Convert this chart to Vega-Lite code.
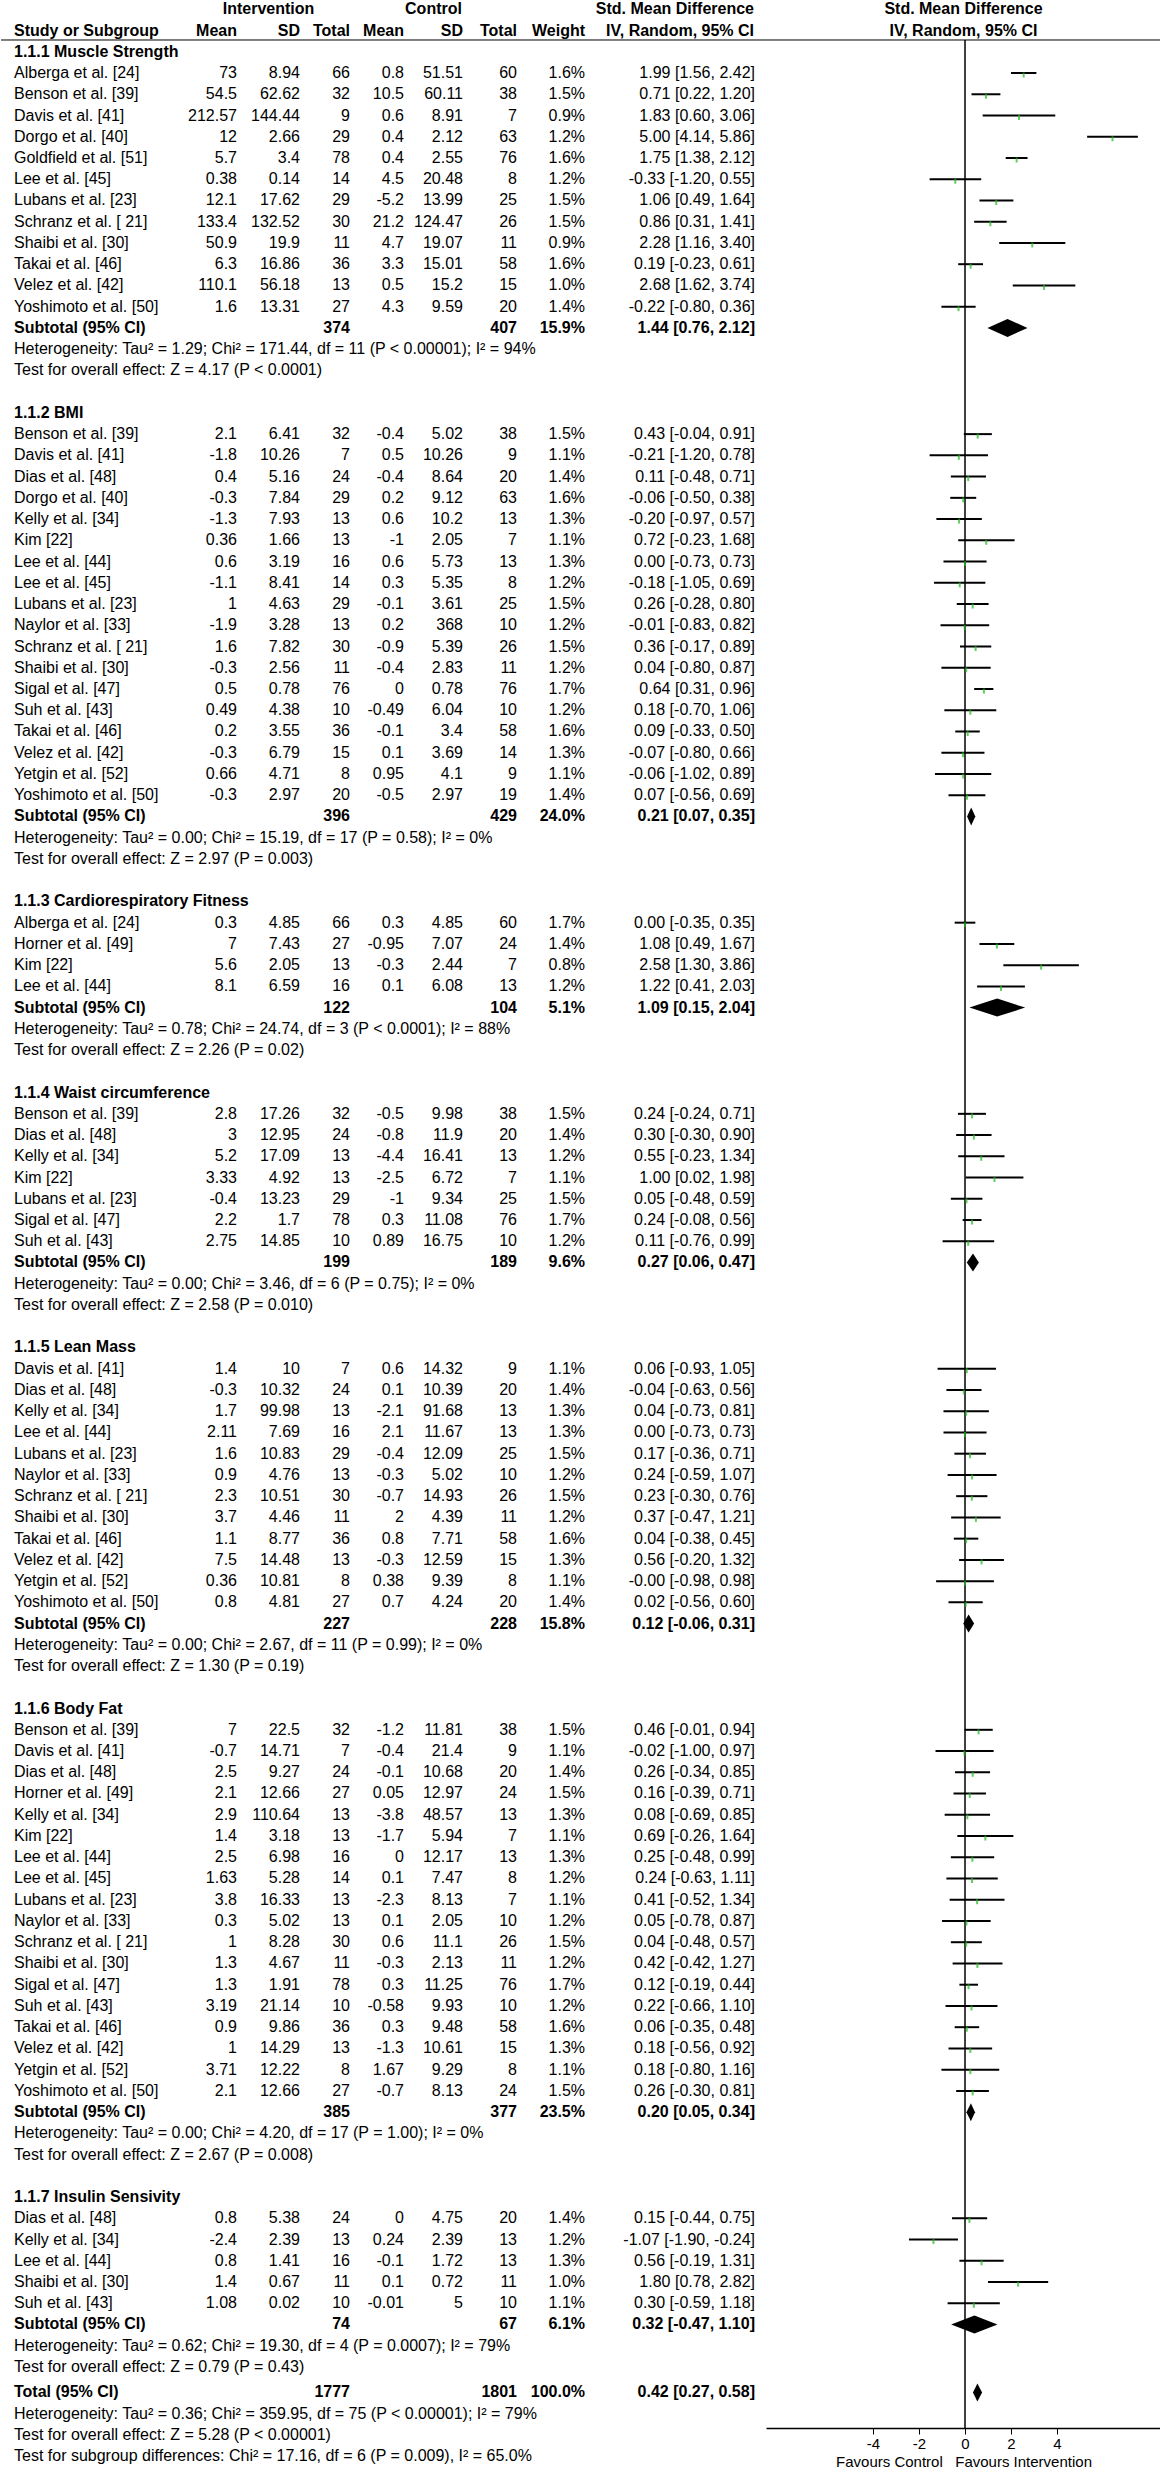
{
"$schema": "https://vega.github.io/schema/vega-lite/v6.json",
"padding": 0,
"spacing": 0,
"bounds": "flush",
"config": {"font": "Liberation Sans", "view": {"stroke": null}, "text": {"fontSize": 16}},
"datasets": {
"hdr": [
{"row":0,"col":"grpI","label":"Intervention"},
{"row":0,"col":"grpC","label":"Control"},
{"row":0,"col":"ci","label":"Std. Mean Difference"},
{"row":0,"col":"forest","label":"Std. Mean Difference"},
{"row":1,"col":"name","label":"Study or Subgroup"},
{"row":1,"col":"mi","label":"Mean"},
{"row":1,"col":"sdi","label":"SD"},
{"row":1,"col":"ni","label":"Total"},
{"row":1,"col":"mc","label":"Mean"},
{"row":1,"col":"sdc","label":"SD"},
{"row":1,"col":"nc","label":"Total"},
{"row":1,"col":"w","label":"Weight"},
{"row":1,"col":"ci","label":"IV, Random, 95% CI"},
{"row":1,"col":"forest","label":"IV, Random, 95% CI"}
],
"rows": [
{"row":2,"type":"group","label":"1.1.1 Muscle Strength"},
{"row":3,"type":"study","label":"Alberga et al. [24]","mi":73,"sdi":8.94,"ni":66,"mc":0.8,"sdc":51.51,"nc":60,"w":0.016,"smd":1.99,"lo":1.56,"hi":2.42,"ci":"1.99 [1.56, 2.42]"},
{"row":4,"type":"study","label":"Benson et al. [39]","mi":54.5,"sdi":62.62,"ni":32,"mc":10.5,"sdc":60.11,"nc":38,"w":0.015,"smd":0.71,"lo":0.22,"hi":1.20,"ci":"0.71 [0.22, 1.20]"},
{"row":5,"type":"study","label":"Davis et al. [41]","mi":212.57,"sdi":144.44,"ni":9,"mc":0.6,"sdc":8.91,"nc":7,"w":0.009,"smd":1.83,"lo":0.60,"hi":3.06,"ci":"1.83 [0.60, 3.06]"},
{"row":6,"type":"study","label":"Dorgo et al. [40]","mi":12,"sdi":2.66,"ni":29,"mc":0.4,"sdc":2.12,"nc":63,"w":0.012,"smd":5.00,"lo":4.14,"hi":5.86,"ci":"5.00 [4.14, 5.86]"},
{"row":7,"type":"study","label":"Goldfield et al. [51]","mi":5.7,"sdi":3.4,"ni":78,"mc":0.4,"sdc":2.55,"nc":76,"w":0.016,"smd":1.75,"lo":1.38,"hi":2.12,"ci":"1.75 [1.38, 2.12]"},
{"row":8,"type":"study","label":"Lee et al. [45]","mi":0.38,"sdi":0.14,"ni":14,"mc":4.5,"sdc":20.48,"nc":8,"w":0.012,"smd":-0.33,"lo":-1.20,"hi":0.55,"ci":"-0.33 [-1.20, 0.55]"},
{"row":9,"type":"study","label":"Lubans et al. [23]","mi":12.1,"sdi":17.62,"ni":29,"mc":-5.2,"sdc":13.99,"nc":25,"w":0.015,"smd":1.06,"lo":0.49,"hi":1.64,"ci":"1.06 [0.49, 1.64]"},
{"row":10,"type":"study","label":"Schranz et al. [ 21]","mi":133.4,"sdi":132.52,"ni":30,"mc":21.2,"sdc":124.47,"nc":26,"w":0.015,"smd":0.86,"lo":0.31,"hi":1.41,"ci":"0.86 [0.31, 1.41]"},
{"row":11,"type":"study","label":"Shaibi et al. [30]","mi":50.9,"sdi":19.9,"ni":11,"mc":4.7,"sdc":19.07,"nc":11,"w":0.009,"smd":2.28,"lo":1.16,"hi":3.40,"ci":"2.28 [1.16, 3.40]"},
{"row":12,"type":"study","label":"Takai et al. [46]","mi":6.3,"sdi":16.86,"ni":36,"mc":3.3,"sdc":15.01,"nc":58,"w":0.016,"smd":0.19,"lo":-0.23,"hi":0.61,"ci":"0.19 [-0.23, 0.61]"},
{"row":13,"type":"study","label":"Velez et al. [42]","mi":110.1,"sdi":56.18,"ni":13,"mc":0.5,"sdc":15.2,"nc":15,"w":0.010,"smd":2.68,"lo":1.62,"hi":3.74,"ci":"2.68 [1.62, 3.74]"},
{"row":14,"type":"study","label":"Yoshimoto et al. [50]","mi":1.6,"sdi":13.31,"ni":27,"mc":4.3,"sdc":9.59,"nc":20,"w":0.014,"smd":-0.22,"lo":-0.80,"hi":0.36,"ci":"-0.22 [-0.80, 0.36]"},
{"row":15,"type":"sub","label":"Subtotal (95% CI)","ni":374,"nc":407,"w":0.159,"smd":1.44,"lo":0.76,"hi":2.12,"ci":"1.44 [0.76, 2.12]"},
{"row":16,"type":"note","label":"Heterogeneity: Tau² = 1.29; Chi² = 171.44, df = 11 (P < 0.00001); I² = 94%"},
{"row":17,"type":"note","label":"Test for overall effect: Z = 4.17 (P < 0.0001)"},
{"row":19,"type":"group","label":"1.1.2 BMI"},
{"row":20,"type":"study","label":"Benson et al. [39]","mi":2.1,"sdi":6.41,"ni":32,"mc":-0.4,"sdc":5.02,"nc":38,"w":0.015,"smd":0.43,"lo":-0.04,"hi":0.91,"ci":"0.43 [-0.04, 0.91]"},
{"row":21,"type":"study","label":"Davis et al. [41]","mi":-1.8,"sdi":10.26,"ni":7,"mc":0.5,"sdc":10.26,"nc":9,"w":0.011,"smd":-0.21,"lo":-1.20,"hi":0.78,"ci":"-0.21 [-1.20, 0.78]"},
{"row":22,"type":"study","label":"Dias et al. [48]","mi":0.4,"sdi":5.16,"ni":24,"mc":-0.4,"sdc":8.64,"nc":20,"w":0.014,"smd":0.11,"lo":-0.48,"hi":0.71,"ci":"0.11 [-0.48, 0.71]"},
{"row":23,"type":"study","label":"Dorgo et al. [40]","mi":-0.3,"sdi":7.84,"ni":29,"mc":0.2,"sdc":9.12,"nc":63,"w":0.016,"smd":-0.06,"lo":-0.50,"hi":0.38,"ci":"-0.06 [-0.50, 0.38]"},
{"row":24,"type":"study","label":"Kelly et al. [34]","mi":-1.3,"sdi":7.93,"ni":13,"mc":0.6,"sdc":10.2,"nc":13,"w":0.013,"smd":-0.20,"lo":-0.97,"hi":0.57,"ci":"-0.20 [-0.97, 0.57]"},
{"row":25,"type":"study","label":"Kim [22]","mi":0.36,"sdi":1.66,"ni":13,"mc":-1,"sdc":2.05,"nc":7,"w":0.011,"smd":0.72,"lo":-0.23,"hi":1.68,"ci":"0.72 [-0.23, 1.68]"},
{"row":26,"type":"study","label":"Lee et al. [44]","mi":0.6,"sdi":3.19,"ni":16,"mc":0.6,"sdc":5.73,"nc":13,"w":0.013,"smd":0.00,"lo":-0.73,"hi":0.73,"ci":"0.00 [-0.73, 0.73]"},
{"row":27,"type":"study","label":"Lee et al. [45]","mi":-1.1,"sdi":8.41,"ni":14,"mc":0.3,"sdc":5.35,"nc":8,"w":0.012,"smd":-0.18,"lo":-1.05,"hi":0.69,"ci":"-0.18 [-1.05, 0.69]"},
{"row":28,"type":"study","label":"Lubans et al. [23]","mi":1,"sdi":4.63,"ni":29,"mc":-0.1,"sdc":3.61,"nc":25,"w":0.015,"smd":0.26,"lo":-0.28,"hi":0.80,"ci":"0.26 [-0.28, 0.80]"},
{"row":29,"type":"study","label":"Naylor et al. [33]","mi":-1.9,"sdi":3.28,"ni":13,"mc":0.2,"sdc":368,"nc":10,"w":0.012,"smd":-0.01,"lo":-0.83,"hi":0.82,"ci":"-0.01 [-0.83, 0.82]"},
{"row":30,"type":"study","label":"Schranz et al. [ 21]","mi":1.6,"sdi":7.82,"ni":30,"mc":-0.9,"sdc":5.39,"nc":26,"w":0.015,"smd":0.36,"lo":-0.17,"hi":0.89,"ci":"0.36 [-0.17, 0.89]"},
{"row":31,"type":"study","label":"Shaibi et al. [30]","mi":-0.3,"sdi":2.56,"ni":11,"mc":-0.4,"sdc":2.83,"nc":11,"w":0.012,"smd":0.04,"lo":-0.80,"hi":0.87,"ci":"0.04 [-0.80, 0.87]"},
{"row":32,"type":"study","label":"Sigal et al. [47]","mi":0.5,"sdi":0.78,"ni":76,"mc":0,"sdc":0.78,"nc":76,"w":0.017,"smd":0.64,"lo":0.31,"hi":0.96,"ci":"0.64 [0.31, 0.96]"},
{"row":33,"type":"study","label":"Suh et al. [43]","mi":0.49,"sdi":4.38,"ni":10,"mc":-0.49,"sdc":6.04,"nc":10,"w":0.012,"smd":0.18,"lo":-0.70,"hi":1.06,"ci":"0.18 [-0.70, 1.06]"},
{"row":34,"type":"study","label":"Takai et al. [46]","mi":0.2,"sdi":3.55,"ni":36,"mc":-0.1,"sdc":3.4,"nc":58,"w":0.016,"smd":0.09,"lo":-0.33,"hi":0.50,"ci":"0.09 [-0.33, 0.50]"},
{"row":35,"type":"study","label":"Velez et al. [42]","mi":-0.3,"sdi":6.79,"ni":15,"mc":0.1,"sdc":3.69,"nc":14,"w":0.013,"smd":-0.07,"lo":-0.80,"hi":0.66,"ci":"-0.07 [-0.80, 0.66]"},
{"row":36,"type":"study","label":"Yetgin et al. [52]","mi":0.66,"sdi":4.71,"ni":8,"mc":0.95,"sdc":4.1,"nc":9,"w":0.011,"smd":-0.06,"lo":-1.02,"hi":0.89,"ci":"-0.06 [-1.02, 0.89]"},
{"row":37,"type":"study","label":"Yoshimoto et al. [50]","mi":-0.3,"sdi":2.97,"ni":20,"mc":-0.5,"sdc":2.97,"nc":19,"w":0.014,"smd":0.07,"lo":-0.56,"hi":0.69,"ci":"0.07 [-0.56, 0.69]"},
{"row":38,"type":"sub","label":"Subtotal (95% CI)","ni":396,"nc":429,"w":0.240,"smd":0.21,"lo":0.07,"hi":0.35,"ci":"0.21 [0.07, 0.35]"},
{"row":39,"type":"note","label":"Heterogeneity: Tau² = 0.00; Chi² = 15.19, df = 17 (P = 0.58); I² = 0%"},
{"row":40,"type":"note","label":"Test for overall effect: Z = 2.97 (P = 0.003)"},
{"row":42,"type":"group","label":"1.1.3 Cardiorespiratory Fitness"},
{"row":43,"type":"study","label":"Alberga et al. [24]","mi":0.3,"sdi":4.85,"ni":66,"mc":0.3,"sdc":4.85,"nc":60,"w":0.017,"smd":0.00,"lo":-0.35,"hi":0.35,"ci":"0.00 [-0.35, 0.35]"},
{"row":44,"type":"study","label":"Horner et al. [49]","mi":7,"sdi":7.43,"ni":27,"mc":-0.95,"sdc":7.07,"nc":24,"w":0.014,"smd":1.08,"lo":0.49,"hi":1.67,"ci":"1.08 [0.49, 1.67]"},
{"row":45,"type":"study","label":"Kim [22]","mi":5.6,"sdi":2.05,"ni":13,"mc":-0.3,"sdc":2.44,"nc":7,"w":0.008,"smd":2.58,"lo":1.30,"hi":3.86,"ci":"2.58 [1.30, 3.86]"},
{"row":46,"type":"study","label":"Lee et al. [44]","mi":8.1,"sdi":6.59,"ni":16,"mc":0.1,"sdc":6.08,"nc":13,"w":0.012,"smd":1.22,"lo":0.41,"hi":2.03,"ci":"1.22 [0.41, 2.03]"},
{"row":47,"type":"sub","label":"Subtotal (95% CI)","ni":122,"nc":104,"w":0.051,"smd":1.09,"lo":0.15,"hi":2.04,"ci":"1.09 [0.15, 2.04]"},
{"row":48,"type":"note","label":"Heterogeneity: Tau² = 0.78; Chi² = 24.74, df = 3 (P < 0.0001); I² = 88%"},
{"row":49,"type":"note","label":"Test for overall effect: Z = 2.26 (P = 0.02)"},
{"row":51,"type":"group","label":"1.1.4 Waist circumference"},
{"row":52,"type":"study","label":"Benson et al. [39]","mi":2.8,"sdi":17.26,"ni":32,"mc":-0.5,"sdc":9.98,"nc":38,"w":0.015,"smd":0.24,"lo":-0.24,"hi":0.71,"ci":"0.24 [-0.24, 0.71]"},
{"row":53,"type":"study","label":"Dias et al. [48]","mi":3,"sdi":12.95,"ni":24,"mc":-0.8,"sdc":11.9,"nc":20,"w":0.014,"smd":0.30,"lo":-0.30,"hi":0.90,"ci":"0.30 [-0.30, 0.90]"},
{"row":54,"type":"study","label":"Kelly et al. [34]","mi":5.2,"sdi":17.09,"ni":13,"mc":-4.4,"sdc":16.41,"nc":13,"w":0.012,"smd":0.55,"lo":-0.23,"hi":1.34,"ci":"0.55 [-0.23, 1.34]"},
{"row":55,"type":"study","label":"Kim [22]","mi":3.33,"sdi":4.92,"ni":13,"mc":-2.5,"sdc":6.72,"nc":7,"w":0.011,"smd":1.00,"lo":0.02,"hi":1.98,"ci":"1.00 [0.02, 1.98]"},
{"row":56,"type":"study","label":"Lubans et al. [23]","mi":-0.4,"sdi":13.23,"ni":29,"mc":-1,"sdc":9.34,"nc":25,"w":0.015,"smd":0.05,"lo":-0.48,"hi":0.59,"ci":"0.05 [-0.48, 0.59]"},
{"row":57,"type":"study","label":"Sigal et al. [47]","mi":2.2,"sdi":1.7,"ni":78,"mc":0.3,"sdc":11.08,"nc":76,"w":0.017,"smd":0.24,"lo":-0.08,"hi":0.56,"ci":"0.24 [-0.08, 0.56]"},
{"row":58,"type":"study","label":"Suh et al. [43]","mi":2.75,"sdi":14.85,"ni":10,"mc":0.89,"sdc":16.75,"nc":10,"w":0.012,"smd":0.11,"lo":-0.76,"hi":0.99,"ci":"0.11 [-0.76, 0.99]"},
{"row":59,"type":"sub","label":"Subtotal (95% CI)","ni":199,"nc":189,"w":0.096,"smd":0.27,"lo":0.06,"hi":0.47,"ci":"0.27 [0.06, 0.47]"},
{"row":60,"type":"note","label":"Heterogeneity: Tau² = 0.00; Chi² = 3.46, df = 6 (P = 0.75); I² = 0%"},
{"row":61,"type":"note","label":"Test for overall effect: Z = 2.58 (P = 0.010)"},
{"row":63,"type":"group","label":"1.1.5 Lean Mass"},
{"row":64,"type":"study","label":"Davis et al. [41]","mi":1.4,"sdi":10,"ni":7,"mc":0.6,"sdc":14.32,"nc":9,"w":0.011,"smd":0.06,"lo":-0.93,"hi":1.05,"ci":"0.06 [-0.93, 1.05]"},
{"row":65,"type":"study","label":"Dias et al. [48]","mi":-0.3,"sdi":10.32,"ni":24,"mc":0.1,"sdc":10.39,"nc":20,"w":0.014,"smd":-0.04,"lo":-0.63,"hi":0.56,"ci":"-0.04 [-0.63, 0.56]"},
{"row":66,"type":"study","label":"Kelly et al. [34]","mi":1.7,"sdi":99.98,"ni":13,"mc":-2.1,"sdc":91.68,"nc":13,"w":0.013,"smd":0.04,"lo":-0.73,"hi":0.81,"ci":"0.04 [-0.73, 0.81]"},
{"row":67,"type":"study","label":"Lee et al. [44]","mi":2.11,"sdi":7.69,"ni":16,"mc":2.1,"sdc":11.67,"nc":13,"w":0.013,"smd":0.00,"lo":-0.73,"hi":0.73,"ci":"0.00 [-0.73, 0.73]"},
{"row":68,"type":"study","label":"Lubans et al. [23]","mi":1.6,"sdi":10.83,"ni":29,"mc":-0.4,"sdc":12.09,"nc":25,"w":0.015,"smd":0.17,"lo":-0.36,"hi":0.71,"ci":"0.17 [-0.36, 0.71]"},
{"row":69,"type":"study","label":"Naylor et al. [33]","mi":0.9,"sdi":4.76,"ni":13,"mc":-0.3,"sdc":5.02,"nc":10,"w":0.012,"smd":0.24,"lo":-0.59,"hi":1.07,"ci":"0.24 [-0.59, 1.07]"},
{"row":70,"type":"study","label":"Schranz et al. [ 21]","mi":2.3,"sdi":10.51,"ni":30,"mc":-0.7,"sdc":14.93,"nc":26,"w":0.015,"smd":0.23,"lo":-0.30,"hi":0.76,"ci":"0.23 [-0.30, 0.76]"},
{"row":71,"type":"study","label":"Shaibi et al. [30]","mi":3.7,"sdi":4.46,"ni":11,"mc":2,"sdc":4.39,"nc":11,"w":0.012,"smd":0.37,"lo":-0.47,"hi":1.21,"ci":"0.37 [-0.47, 1.21]"},
{"row":72,"type":"study","label":"Takai et al. [46]","mi":1.1,"sdi":8.77,"ni":36,"mc":0.8,"sdc":7.71,"nc":58,"w":0.016,"smd":0.04,"lo":-0.38,"hi":0.45,"ci":"0.04 [-0.38, 0.45]"},
{"row":73,"type":"study","label":"Velez et al. [42]","mi":7.5,"sdi":14.48,"ni":13,"mc":-0.3,"sdc":12.59,"nc":15,"w":0.013,"smd":0.56,"lo":-0.20,"hi":1.32,"ci":"0.56 [-0.20, 1.32]"},
{"row":74,"type":"study","label":"Yetgin et al. [52]","mi":0.36,"sdi":10.81,"ni":8,"mc":0.38,"sdc":9.39,"nc":8,"w":0.011,"smd":0.00,"lo":-0.98,"hi":0.98,"ci":"-0.00 [-0.98, 0.98]"},
{"row":75,"type":"study","label":"Yoshimoto et al. [50]","mi":0.8,"sdi":4.81,"ni":27,"mc":0.7,"sdc":4.24,"nc":20,"w":0.014,"smd":0.02,"lo":-0.56,"hi":0.60,"ci":"0.02 [-0.56, 0.60]"},
{"row":76,"type":"sub","label":"Subtotal (95% CI)","ni":227,"nc":228,"w":0.158,"smd":0.12,"lo":-0.06,"hi":0.31,"ci":"0.12 [-0.06, 0.31]"},
{"row":77,"type":"note","label":"Heterogeneity: Tau² = 0.00; Chi² = 2.67, df = 11 (P = 0.99); I² = 0%"},
{"row":78,"type":"note","label":"Test for overall effect: Z = 1.30 (P = 0.19)"},
{"row":80,"type":"group","label":"1.1.6 Body Fat"},
{"row":81,"type":"study","label":"Benson et al. [39]","mi":7,"sdi":22.5,"ni":32,"mc":-1.2,"sdc":11.81,"nc":38,"w":0.015,"smd":0.46,"lo":-0.01,"hi":0.94,"ci":"0.46 [-0.01, 0.94]"},
{"row":82,"type":"study","label":"Davis et al. [41]","mi":-0.7,"sdi":14.71,"ni":7,"mc":-0.4,"sdc":21.4,"nc":9,"w":0.011,"smd":-0.02,"lo":-1.00,"hi":0.97,"ci":"-0.02 [-1.00, 0.97]"},
{"row":83,"type":"study","label":"Dias et al. [48]","mi":2.5,"sdi":9.27,"ni":24,"mc":-0.1,"sdc":10.68,"nc":20,"w":0.014,"smd":0.26,"lo":-0.34,"hi":0.85,"ci":"0.26 [-0.34, 0.85]"},
{"row":84,"type":"study","label":"Horner et al. [49]","mi":2.1,"sdi":12.66,"ni":27,"mc":0.05,"sdc":12.97,"nc":24,"w":0.015,"smd":0.16,"lo":-0.39,"hi":0.71,"ci":"0.16 [-0.39, 0.71]"},
{"row":85,"type":"study","label":"Kelly et al. [34]","mi":2.9,"sdi":110.64,"ni":13,"mc":-3.8,"sdc":48.57,"nc":13,"w":0.013,"smd":0.08,"lo":-0.69,"hi":0.85,"ci":"0.08 [-0.69, 0.85]"},
{"row":86,"type":"study","label":"Kim [22]","mi":1.4,"sdi":3.18,"ni":13,"mc":-1.7,"sdc":5.94,"nc":7,"w":0.011,"smd":0.69,"lo":-0.26,"hi":1.64,"ci":"0.69 [-0.26, 1.64]"},
{"row":87,"type":"study","label":"Lee et al. [44]","mi":2.5,"sdi":6.98,"ni":16,"mc":0,"sdc":12.17,"nc":13,"w":0.013,"smd":0.25,"lo":-0.48,"hi":0.99,"ci":"0.25 [-0.48, 0.99]"},
{"row":88,"type":"study","label":"Lee et al. [45]","mi":1.63,"sdi":5.28,"ni":14,"mc":0.1,"sdc":7.47,"nc":8,"w":0.012,"smd":0.24,"lo":-0.63,"hi":1.11,"ci":"0.24 [-0.63, 1.11]"},
{"row":89,"type":"study","label":"Lubans et al. [23]","mi":3.8,"sdi":16.33,"ni":13,"mc":-2.3,"sdc":8.13,"nc":7,"w":0.011,"smd":0.41,"lo":-0.52,"hi":1.34,"ci":"0.41 [-0.52, 1.34]"},
{"row":90,"type":"study","label":"Naylor et al. [33]","mi":0.3,"sdi":5.02,"ni":13,"mc":0.1,"sdc":2.05,"nc":10,"w":0.012,"smd":0.05,"lo":-0.78,"hi":0.87,"ci":"0.05 [-0.78, 0.87]"},
{"row":91,"type":"study","label":"Schranz et al. [ 21]","mi":1,"sdi":8.28,"ni":30,"mc":0.6,"sdc":11.1,"nc":26,"w":0.015,"smd":0.04,"lo":-0.48,"hi":0.57,"ci":"0.04 [-0.48, 0.57]"},
{"row":92,"type":"study","label":"Shaibi et al. [30]","mi":1.3,"sdi":4.67,"ni":11,"mc":-0.3,"sdc":2.13,"nc":11,"w":0.012,"smd":0.42,"lo":-0.42,"hi":1.27,"ci":"0.42 [-0.42, 1.27]"},
{"row":93,"type":"study","label":"Sigal et al. [47]","mi":1.3,"sdi":1.91,"ni":78,"mc":0.3,"sdc":11.25,"nc":76,"w":0.017,"smd":0.12,"lo":-0.19,"hi":0.44,"ci":"0.12 [-0.19, 0.44]"},
{"row":94,"type":"study","label":"Suh et al. [43]","mi":3.19,"sdi":21.14,"ni":10,"mc":-0.58,"sdc":9.93,"nc":10,"w":0.012,"smd":0.22,"lo":-0.66,"hi":1.10,"ci":"0.22 [-0.66, 1.10]"},
{"row":95,"type":"study","label":"Takai et al. [46]","mi":0.9,"sdi":9.86,"ni":36,"mc":0.3,"sdc":9.48,"nc":58,"w":0.016,"smd":0.06,"lo":-0.35,"hi":0.48,"ci":"0.06 [-0.35, 0.48]"},
{"row":96,"type":"study","label":"Velez et al. [42]","mi":1,"sdi":14.29,"ni":13,"mc":-1.3,"sdc":10.61,"nc":15,"w":0.013,"smd":0.18,"lo":-0.56,"hi":0.92,"ci":"0.18 [-0.56, 0.92]"},
{"row":97,"type":"study","label":"Yetgin et al. [52]","mi":3.71,"sdi":12.22,"ni":8,"mc":1.67,"sdc":9.29,"nc":8,"w":0.011,"smd":0.18,"lo":-0.80,"hi":1.16,"ci":"0.18 [-0.80, 1.16]"},
{"row":98,"type":"study","label":"Yoshimoto et al. [50]","mi":2.1,"sdi":12.66,"ni":27,"mc":-0.7,"sdc":8.13,"nc":24,"w":0.015,"smd":0.26,"lo":-0.30,"hi":0.81,"ci":"0.26 [-0.30, 0.81]"},
{"row":99,"type":"sub","label":"Subtotal (95% CI)","ni":385,"nc":377,"w":0.235,"smd":0.20,"lo":0.05,"hi":0.34,"ci":"0.20 [0.05, 0.34]"},
{"row":100,"type":"note","label":"Heterogeneity: Tau² = 0.00; Chi² = 4.20, df = 17 (P = 1.00); I² = 0%"},
{"row":101,"type":"note","label":"Test for overall effect: Z = 2.67 (P = 0.008)"},
{"row":103,"type":"group","label":"1.1.7 Insulin Sensivity"},
{"row":104,"type":"study","label":"Dias et al. [48]","mi":0.8,"sdi":5.38,"ni":24,"mc":0,"sdc":4.75,"nc":20,"w":0.014,"smd":0.15,"lo":-0.44,"hi":0.75,"ci":"0.15 [-0.44, 0.75]"},
{"row":105,"type":"study","label":"Kelly et al. [34]","mi":-2.4,"sdi":2.39,"ni":13,"mc":0.24,"sdc":2.39,"nc":13,"w":0.012,"smd":-1.07,"lo":-1.90,"hi":-0.24,"ci":"-1.07 [-1.90, -0.24]"},
{"row":106,"type":"study","label":"Lee et al. [44]","mi":0.8,"sdi":1.41,"ni":16,"mc":-0.1,"sdc":1.72,"nc":13,"w":0.013,"smd":0.56,"lo":-0.19,"hi":1.31,"ci":"0.56 [-0.19, 1.31]"},
{"row":107,"type":"study","label":"Shaibi et al. [30]","mi":1.4,"sdi":0.67,"ni":11,"mc":0.1,"sdc":0.72,"nc":11,"w":0.010,"smd":1.80,"lo":0.78,"hi":2.82,"ci":"1.80 [0.78, 2.82]"},
{"row":108,"type":"study","label":"Suh et al. [43]","mi":1.08,"sdi":0.02,"ni":10,"mc":-0.01,"sdc":5,"nc":10,"w":0.011,"smd":0.30,"lo":-0.59,"hi":1.18,"ci":"0.30 [-0.59, 1.18]"},
{"row":109,"type":"sub","label":"Subtotal (95% CI)","ni":74,"nc":67,"w":0.061,"smd":0.32,"lo":-0.47,"hi":1.10,"ci":"0.32 [-0.47, 1.10]"},
{"row":110,"type":"note","label":"Heterogeneity: Tau² = 0.62; Chi² = 19.30, df = 4 (P = 0.0007); I² = 79%"},
{"row":111,"type":"note","label":"Test for overall effect: Z = 0.79 (P = 0.43)"},
{"row":112.2,"type":"total","label":"Total (95% CI)","ni":1777,"nc":1801,"w":1.0,"smd":0.42,"lo":0.27,"hi":0.58,"ci":"0.42 [0.27, 0.58]"},
{"row":113.2,"type":"note","label":"Heterogeneity: Tau² = 0.36; Chi² = 359.95, df = 75 (P < 0.00001); I² = 79%"},
{"row":114.2,"type":"note","label":"Test for overall effect: Z = 5.28 (P < 0.00001)"},
{"row":115.2,"type":"note","label":"Test for subgroup differences: Chi² = 17.16, df = 6 (P = 0.009), I² = 65.0%"}
]
},
"hconcat": [
{"width": 180, "height": 2484, "layer": [
 {"data": {"name": "hdr"}, "transform": [{"filter": "datum.col == 'name'"}], "mark": {"type": "rule", "color": "black"}, "encoding": {"y": {"datum": 1.445, "type": "quantitative", "scale": {"domain": [-0.438, 116.51], "reverse": true, "nice": false, "zero": false}, "axis": null}}},
 {"data": {"name": "hdr"}, "transform": [{"filter": "datum.col == 'name'"}], "mark": {"type": "text", "align": "left", "baseline": "middle", "dx": 13, "fontWeight": "bold"}, "encoding": {"x": {"value": 0}, "y": {"field": "row", "type": "quantitative", "axis": null}, "text": {"field": "label", "type": "nominal"}}},
 {"data": {"name": "rows"}, "transform": [{"filter": "datum.type == 'study' || datum.type == 'note'"}], "mark": {"type": "text", "align": "left", "baseline": "middle", "dx": 13}, "encoding": {"x": {"value": 0}, "y": {"field": "row", "type": "quantitative", "axis": null}, "text": {"field": "label", "type": "nominal"}}},
 {"data": {"name": "rows"}, "transform": [{"filter": "datum.type == 'group' || datum.type == 'sub' || datum.type == 'total'"}], "mark": {"type": "text", "align": "left", "baseline": "middle", "dx": 13, "fontWeight": "bold"}, "encoding": {"x": {"value": 0}, "y": {"field": "row", "type": "quantitative", "axis": null}, "text": {"field": "label", "type": "nominal"}}}
]},
{"width": 56, "height": 2484, "layer": [
 {"data": {"name": "hdr"}, "transform": [{"filter": "datum.col == 'mi'"}], "mark": {"type": "rule", "color": "black"}, "encoding": {"y": {"datum": 1.445, "type": "quantitative", "scale": {"domain": [-0.438, 116.51], "reverse": true, "nice": false, "zero": false}, "axis": null}}},
 {"data": {"name": "hdr"}, "transform": [{"filter": "datum.col == 'mi'"}], "mark": {"type": "text", "align": "right", "baseline": "middle", "fontWeight": "bold"}, "encoding": {"x": {"value": "width"}, "y": {"field": "row", "type": "quantitative", "axis": null}, "text": {"field": "label", "type": "nominal"}}},
 {"data": {"name": "rows"}, "transform": [{"filter": "datum.type == 'study'"}], "mark": {"type": "text", "align": "right", "baseline": "middle"}, "encoding": {"x": {"value": "width"}, "y": {"field": "row", "type": "quantitative", "axis": null}, "text": {"field": "mi", "type": "nominal"}}}
]},
{"width": 63, "height": 2484, "layer": [
 {"data": {"name": "hdr"}, "transform": [{"filter": "datum.col == 'sdi'"}], "mark": {"type": "rule", "color": "black"}, "encoding": {"y": {"datum": 1.445, "type": "quantitative", "scale": {"domain": [-0.438, 116.51], "reverse": true, "nice": false, "zero": false}, "axis": null}}},
 {"data": {"name": "hdr"}, "transform": [{"filter": "datum.col == 'grpI'"}], "mark": {"type": "text", "align": "center", "baseline": "middle", "fontWeight": "bold"}, "encoding": {"y": {"field": "row", "type": "quantitative", "axis": null}, "text": {"field": "label", "type": "nominal"}}},
 {"data": {"name": "hdr"}, "transform": [{"filter": "datum.col == 'sdi'"}], "mark": {"type": "text", "align": "right", "baseline": "middle", "fontWeight": "bold"}, "encoding": {"x": {"value": "width"}, "y": {"field": "row", "type": "quantitative", "axis": null}, "text": {"field": "label", "type": "nominal"}}},
 {"data": {"name": "rows"}, "transform": [{"filter": "datum.type == 'study'"}], "mark": {"type": "text", "align": "right", "baseline": "middle"}, "encoding": {"x": {"value": "width"}, "y": {"field": "row", "type": "quantitative", "axis": null}, "text": {"field": "sdi", "type": "nominal"}}}
]},
{"width": 50, "height": 2484, "layer": [
 {"data": {"name": "hdr"}, "transform": [{"filter": "datum.col == 'ni'"}], "mark": {"type": "rule", "color": "black"}, "encoding": {"y": {"datum": 1.445, "type": "quantitative", "scale": {"domain": [-0.438, 116.51], "reverse": true, "nice": false, "zero": false}, "axis": null}}},
 {"data": {"name": "hdr"}, "transform": [{"filter": "datum.col == 'ni'"}], "mark": {"type": "text", "align": "right", "baseline": "middle", "fontWeight": "bold"}, "encoding": {"x": {"value": "width"}, "y": {"field": "row", "type": "quantitative", "axis": null}, "text": {"field": "label", "type": "nominal"}}},
 {"data": {"name": "rows"}, "transform": [{"filter": "datum.type == 'study'"}], "mark": {"type": "text", "align": "right", "baseline": "middle"}, "encoding": {"x": {"value": "width"}, "y": {"field": "row", "type": "quantitative", "axis": null}, "text": {"field": "ni", "type": "nominal"}}},
 {"data": {"name": "rows"}, "transform": [{"filter": "datum.type == 'sub' || datum.type == 'total'"}], "mark": {"type": "text", "align": "right", "baseline": "middle", "fontWeight": "bold"}, "encoding": {"x": {"value": "width"}, "y": {"field": "row", "type": "quantitative", "axis": null}, "text": {"field": "ni", "type": "nominal"}}}
]},
{"width": 54, "height": 2484, "layer": [
 {"data": {"name": "hdr"}, "transform": [{"filter": "datum.col == 'mc'"}], "mark": {"type": "rule", "color": "black"}, "encoding": {"y": {"datum": 1.445, "type": "quantitative", "scale": {"domain": [-0.438, 116.51], "reverse": true, "nice": false, "zero": false}, "axis": null}}},
 {"data": {"name": "hdr"}, "transform": [{"filter": "datum.col == 'mc'"}], "mark": {"type": "text", "align": "right", "baseline": "middle", "fontWeight": "bold"}, "encoding": {"x": {"value": "width"}, "y": {"field": "row", "type": "quantitative", "axis": null}, "text": {"field": "label", "type": "nominal"}}},
 {"data": {"name": "rows"}, "transform": [{"filter": "datum.type == 'study'"}], "mark": {"type": "text", "align": "right", "baseline": "middle"}, "encoding": {"x": {"value": "width"}, "y": {"field": "row", "type": "quantitative", "axis": null}, "text": {"field": "mc", "type": "nominal"}}}
]},
{"width": 59, "height": 2484, "layer": [
 {"data": {"name": "hdr"}, "transform": [{"filter": "datum.col == 'sdc'"}], "mark": {"type": "rule", "color": "black"}, "encoding": {"y": {"datum": 1.445, "type": "quantitative", "scale": {"domain": [-0.438, 116.51], "reverse": true, "nice": false, "zero": false}, "axis": null}}},
 {"data": {"name": "hdr"}, "transform": [{"filter": "datum.col == 'grpC'"}], "mark": {"type": "text", "align": "center", "baseline": "middle", "fontWeight": "bold"}, "encoding": {"y": {"field": "row", "type": "quantitative", "axis": null}, "text": {"field": "label", "type": "nominal"}}},
 {"data": {"name": "hdr"}, "transform": [{"filter": "datum.col == 'sdc'"}], "mark": {"type": "text", "align": "right", "baseline": "middle", "fontWeight": "bold"}, "encoding": {"x": {"value": "width"}, "y": {"field": "row", "type": "quantitative", "axis": null}, "text": {"field": "label", "type": "nominal"}}},
 {"data": {"name": "rows"}, "transform": [{"filter": "datum.type == 'study'"}], "mark": {"type": "text", "align": "right", "baseline": "middle"}, "encoding": {"x": {"value": "width"}, "y": {"field": "row", "type": "quantitative", "axis": null}, "text": {"field": "sdc", "type": "nominal"}}}
]},
{"width": 54, "height": 2484, "layer": [
 {"data": {"name": "hdr"}, "transform": [{"filter": "datum.col == 'nc'"}], "mark": {"type": "rule", "color": "black"}, "encoding": {"y": {"datum": 1.445, "type": "quantitative", "scale": {"domain": [-0.438, 116.51], "reverse": true, "nice": false, "zero": false}, "axis": null}}},
 {"data": {"name": "hdr"}, "transform": [{"filter": "datum.col == 'nc'"}], "mark": {"type": "text", "align": "right", "baseline": "middle", "fontWeight": "bold"}, "encoding": {"x": {"value": "width"}, "y": {"field": "row", "type": "quantitative", "axis": null}, "text": {"field": "label", "type": "nominal"}}},
 {"data": {"name": "rows"}, "transform": [{"filter": "datum.type == 'study'"}], "mark": {"type": "text", "align": "right", "baseline": "middle"}, "encoding": {"x": {"value": "width"}, "y": {"field": "row", "type": "quantitative", "axis": null}, "text": {"field": "nc", "type": "nominal"}}},
 {"data": {"name": "rows"}, "transform": [{"filter": "datum.type == 'sub' || datum.type == 'total'"}], "mark": {"type": "text", "align": "right", "baseline": "middle", "fontWeight": "bold"}, "encoding": {"x": {"value": "width"}, "y": {"field": "row", "type": "quantitative", "axis": null}, "text": {"field": "nc", "type": "nominal"}}}
]},
{"width": 68, "height": 2484, "layer": [
 {"data": {"name": "hdr"}, "transform": [{"filter": "datum.col == 'w'"}], "mark": {"type": "rule", "color": "black"}, "encoding": {"y": {"datum": 1.445, "type": "quantitative", "scale": {"domain": [-0.438, 116.51], "reverse": true, "nice": false, "zero": false}, "axis": null}}},
 {"data": {"name": "hdr"}, "transform": [{"filter": "datum.col == 'w'"}], "mark": {"type": "text", "align": "right", "baseline": "middle", "fontWeight": "bold"}, "encoding": {"x": {"value": "width"}, "y": {"field": "row", "type": "quantitative", "axis": null}, "text": {"field": "label", "type": "nominal"}}},
 {"data": {"name": "rows"}, "transform": [{"filter": "datum.type == 'study'"}], "mark": {"type": "text", "align": "right", "baseline": "middle"}, "encoding": {"x": {"value": "width"}, "y": {"field": "row", "type": "quantitative", "axis": null}, "text": {"field": "w", "type": "quantitative", "format": ".1%"}}},
 {"data": {"name": "rows"}, "transform": [{"filter": "datum.type == 'sub' || datum.type == 'total'"}], "mark": {"type": "text", "align": "right", "baseline": "middle", "fontWeight": "bold"}, "encoding": {"x": {"value": "width"}, "y": {"field": "row", "type": "quantitative", "axis": null}, "text": {"field": "w", "type": "quantitative", "format": ".1%"}}}
]},
{"width": 181, "height": 2484, "layer": [
 {"data": {"name": "hdr"}, "transform": [{"filter": "datum.col == 'w'"}], "mark": {"type": "rule", "color": "black"}, "encoding": {"y": {"datum": 1.445, "type": "quantitative", "scale": {"domain": [-0.438, 116.51], "reverse": true, "nice": false, "zero": false}, "axis": null}}},
 {"data": {"name": "hdr"}, "transform": [{"filter": "datum.col == 'ci'"}], "mark": {"type": "text", "align": "right", "baseline": "middle", "fontWeight": "bold", "dx": -12}, "encoding": {"x": {"value": "width"}, "y": {"field": "row", "type": "quantitative", "axis": null}, "text": {"field": "label", "type": "nominal"}}},
 {"data": {"name": "rows"}, "transform": [{"filter": "datum.type == 'study'"}], "mark": {"type": "text", "align": "right", "baseline": "middle", "dx": -11}, "encoding": {"x": {"value": "width"}, "y": {"field": "row", "type": "quantitative", "axis": null}, "text": {"field": "ci", "type": "nominal"}}},
 {"data": {"name": "rows"}, "transform": [{"filter": "datum.type == 'sub' || datum.type == 'total'"}], "mark": {"type": "text", "align": "right", "baseline": "middle", "fontWeight": "bold", "dx": -11}, "encoding": {"x": {"value": "width"}, "y": {"field": "row", "type": "quantitative", "axis": null}, "text": {"field": "ci", "type": "nominal"}}}
]},
{"width": 395, "height": 2428,
 "layer": [
   {"data": {"name": "hdr"}, "transform": [{"filter": "datum.col == 'w'"}], "mark": {"type": "rule", "color": "black"}, "encoding": {"y": {"datum": 1.445, "type": "quantitative", "scale": {"domain": [-0.438, 113.87], "reverse": true, "nice": false, "zero": false}, "axis": null}}},
   {"data": {"name": "hdr"}, "transform": [{"filter": "datum.col == 'forest'"}], "mark": {"type": "text", "align": "center", "baseline": "middle", "fontWeight": "bold"}, "encoding": {"y": {"field": "row", "type": "quantitative", "axis": null}, "text": {"field": "label", "type": "nominal"}}},
   {"data": {"name": "hdr"}, "transform": [{"filter": "datum.col == 'w'"}], "mark": {"type": "rule", "color": "black", "strokeWidth": 1.5},
    "encoding": {
     "x": {"datum": 0, "type": "quantitative", "scale": {"domain": [-6.746, 6.644], "nice": false, "zero": false},
       "axis": {"orient": "bottom", "values": [-3.1186, -1.5593, 0, 1.5593, 3.1186], "labelExpr": "'' + round(datum.value / 0.77966)", "grid": false, "domainColor": "black", "domainWidth": 1.5, "tickColor": "black", "tickSize": 6, "labelColor": "black", "labelFontSize": 15, "labelPadding": 2, "labelFlush": false, "title": "\u00a0\u00a0\u00a0\u00a0Favours Control\u00a0\u00a0\u00a0Favours Intervention", "titleFontSize": 15, "titleFontWeight": "normal", "titleColor": "black", "titlePadding": 3}},
     "y": {"datum": 1.445, "type": "quantitative"},
     "y2": {"datum": 113.87}
    }},
   {"data": {"name": "rows"}, "transform": [{"filter": "datum.type == 'study'"}], "mark": {"type": "rule", "color": "black", "strokeWidth": 2}, "encoding": {"x": {"field": "lo", "type": "quantitative"}, "x2": {"field": "hi"}, "y": {"field": "row", "type": "quantitative"}}},
   {"data": {"name": "rows"}, "transform": [{"filter": "datum.type == 'study'"}], "mark": {"type": "tick", "orient": "vertical", "color": "#1cb81c", "size": 5, "thickness": 2, "yOffset": 2}, "encoding": {"x": {"field": "smd", "type": "quantitative"}, "y": {"field": "row", "type": "quantitative"}}},
   {"data": {"name": "rows"}, "transform": [{"filter": "datum.type == 'sub' || datum.type == 'total'"}], "mark": {"type": "point", "filled": true, "color": "black", "opacity": 1, "size": 400, "strokeWidth": 0}, "encoding": {"x": {"field": "smd", "type": "quantitative"}, "y": {"field": "row", "type": "quantitative"}, "shape": {"field": "row", "type": "nominal", "legend": null, "scale": {"domain": [15, 38, 47, 59, 76, 99, 109, 112.2], "range": ["M-2.006,0L0,-0.9L2.006,0L0,0.9Z", "M-0.413,0L0,-0.9L0.413,0L0,0.9Z", "M-2.773,0L0,-0.9L2.803,0L0,0.9Z", "M-0.62,0L0,-0.9L0.59,0L0,0.9Z", "M-0.531,0L0,-0.9L0.561,0L0,0.9Z", "M-0.443,0L0,-0.9L0.413,0L0,0.9Z", "M-2.331,0L0,-0.9L2.301,0L0,0.9Z", "M-0.443,0L0,-0.9L0.472,0L0,0.9Z"]}}}}
 ]
}
]
}
